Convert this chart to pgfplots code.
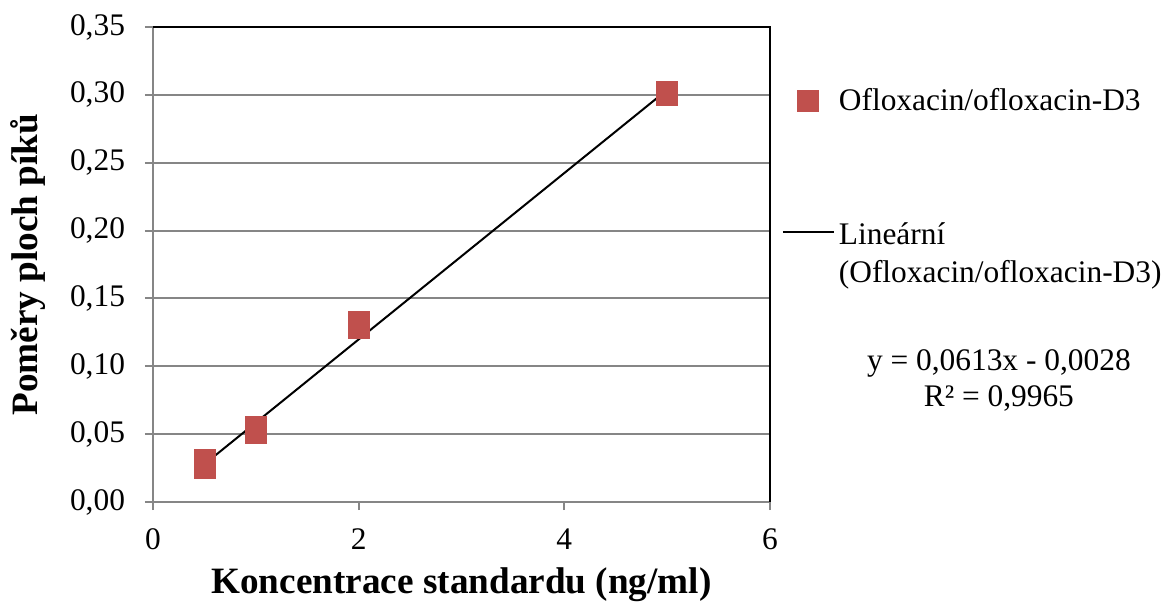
\documentclass[border=0pt]{standalone}
\usepackage{fontspec}
\setmainfont{Liberation Serif}
\usepackage{pgfplots}
\pgfplotsset{compat=1.18}
\definecolor{exred}{HTML}{C0504D}
\definecolor{gridgray}{HTML}{868686}
\begin{document}
\begin{tikzpicture}
\useasboundingbox (-76.5bp,-51bp) rectangle (507.5bp,251bp);
\begin{axis}[
  at={(0,0)}, anchor=south west,
  scale only axis, width=308.5bp, height=237.5bp,
  xmin=0, xmax=6, ymin=0, ymax=0.35,
  xtick={0,2,4,6},
  ytick={0,0.05,0.1,0.15,0.2,0.25,0.3,0.35},
  ymajorgrids, grid style={gridgray, line width=1bp},
  axis line style={draw=none},
  tick style={gridgray, line width=1bp},
  tick align=outside, major tick length=4bp,
  xtick pos=left, ytick pos=left,
  /pgf/number format/assume math mode=true,
  tick label style={font=\fontsize{15.7bp}{18bp}\selectfont},
  yticklabel style={xshift=-6.5bp, /pgf/number format/.cd, fixed, fixed zerofill, precision=2, use comma},
  xticklabel style={yshift=-6bp, /pgf/number format/.cd, use comma},
  label style={font=\fontsize{18.6bp}{22bp}\selectfont\bfseries},
  xlabel={Koncentrace standardu (ng/ml)},
  ylabel={Poměry ploch píků},
  xlabel style={at={(axis description cs:0.5,-0.1747)}, anchor=center},
  ylabel style={at={(axis description cs:-0.2026,0.5)}, anchor=center},
  clip=false,
  legend style={draw=none, fill=none, at={(rel axis cs:1.009,0.888)}, anchor=north west,
    font=\fontsize{15.7bp}{19bp}\selectfont, row sep=48bp},
  legend cell align=left,
]
\addplot[only marks, mark=square*, mark size=5.25bp, color=exred, mark options={fill=exred, draw=exred},
  legend image code/.code={\draw[exred, fill=exred] (7.25bp,-5.25bp) rectangle (17.75bp,5.25bp);}]
  coordinates {(0.5,0.031) (0.5,0.025) (1,0.055) (1,0.051) (2,0.133) (2,0.128) (5,0.302) (5,0.300)};
\addlegendentry{Ofloxacin/ofloxacin-D3}
\addplot[black, line width=1bp, no marks,
  legend image code/.code={\draw[black, line width=1bp] (0bp,0bp) -- (25.5bp,0bp);}]
  coordinates {(0.5,0.02785) (5,0.3037)};
\addlegendentry{\begin{tabular}[t]{@{}l@{}}Lineární\\(Ofloxacin/ofloxacin-D3)\end{tabular}}
\draw[gridgray, line width=1bp] (rel axis cs:0,1) -- (rel axis cs:0,0) -- (rel axis cs:1,0);
\draw[black, line width=1bp] (rel axis cs:0,1) -- (rel axis cs:1,1) -- (rel axis cs:1,0);
\node[align=center, font=\fontsize{15.7bp}{18bp}\selectfont] at (rel axis cs:1.371,0.256)
  {y = 0,0613x - 0,0028\\R² = 0,9965};
\end{axis}
\end{tikzpicture}
\end{document}
